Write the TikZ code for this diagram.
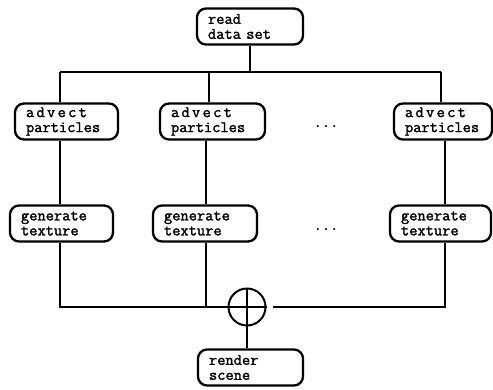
\documentclass[tikz,border=0pt]{standalone}
\usepackage{fontspec}
\newfontfamily\boxmono[FakeBold=1.6]{Latin Modern Mono}
\newcommand\spacedadv{a\kern2.3pt d\kern2.3pt v\kern2.3pt e\kern2.3pt c\kern2.3pt t}
\begin{document}
\begin{tikzpicture}[x=1pt,y=-1pt,
  box/.style={draw, line width=2.3pt, rounded corners=9pt, align=left,
    inner xsep=11pt, inner ysep=2pt, minimum height=36pt, text width=#1,
    font=\fontsize{16}{15}\selectfont\boxmono},
  conn/.style={line width=2pt},
  dotsstyle/.style={font=\fontsize{16}{15}\selectfont\boxmono, inner sep=0pt, anchor=base}]
\useasboundingbox (0,0) rectangle (493,389);
\node[box=84pt] (read) at (250,26.5) {read\\data set};
\node[box=81pt] (adv1) at (66.5,121.5) {\spacedadv\\particles};
\node[box=83pt] (adv2) at (212.5,121.5) {\spacedadv\\particles};
\node[box=76pt] (adv3) at (443,121.5) {\spacedadv\\particles};
\node[box=81pt] (gen1) at (61.5,223.5) {generate\\texture};
\node[box=82pt] (gen2) at (205,223.5) {generate\\texture};
\node[box=79pt] (gen3) at (440.5,223.5) {generate\\texture};
\node[box=83pt] (render) at (250.5,367.5) {render\\scene};
\node[dotsstyle] (dots1) at (326,127) {...};
\node[dotsstyle] (dots2) at (326,230) {...};
\node[circle, draw, line width=2pt, minimum size=37pt, inner sep=0pt] (sum) at (247,307) {};
\draw[line width=2pt] (sum.north) -- (sum.south) (sum.west) -- (sum.east);
\coordinate (c1) at (60,72);
\coordinate (c2) at (209,72);
\coordinate (c3) at (441,72);
\coordinate (b1) at (60,307);
\coordinate (b2) at (206,307);
\coordinate (b3) at (445,307);
\coordinate (g) at (273,307);
\draw[conn] (read.south) -- (read.south |- c2);
\draw[conn] (c1) -- (c3);
\draw[conn] (c1) -- (c1 |- adv1.north);
\draw[conn] (c2) -- (c2 |- adv2.north);
\draw[conn] (c3) -- (c3 |- adv3.north);
\draw[conn] (adv1.south -| b1) -- (gen1.north -| b1);
\draw[conn] (adv2.south -| b2) -- (gen2.north -| b2);
\draw[conn] (adv3.south -| b3) -- (gen3.north -| b3);
\draw[conn] (gen1.south -| b1) -- (b1) -- (sum.west);
\draw[conn] (gen2.south -| b2) -- (b2);
\draw[conn] (gen3.south -| b3) -- (b3) -- (g);
\draw[conn] (sum.south) -- (render.north -| sum);
\end{tikzpicture}
\end{document}
